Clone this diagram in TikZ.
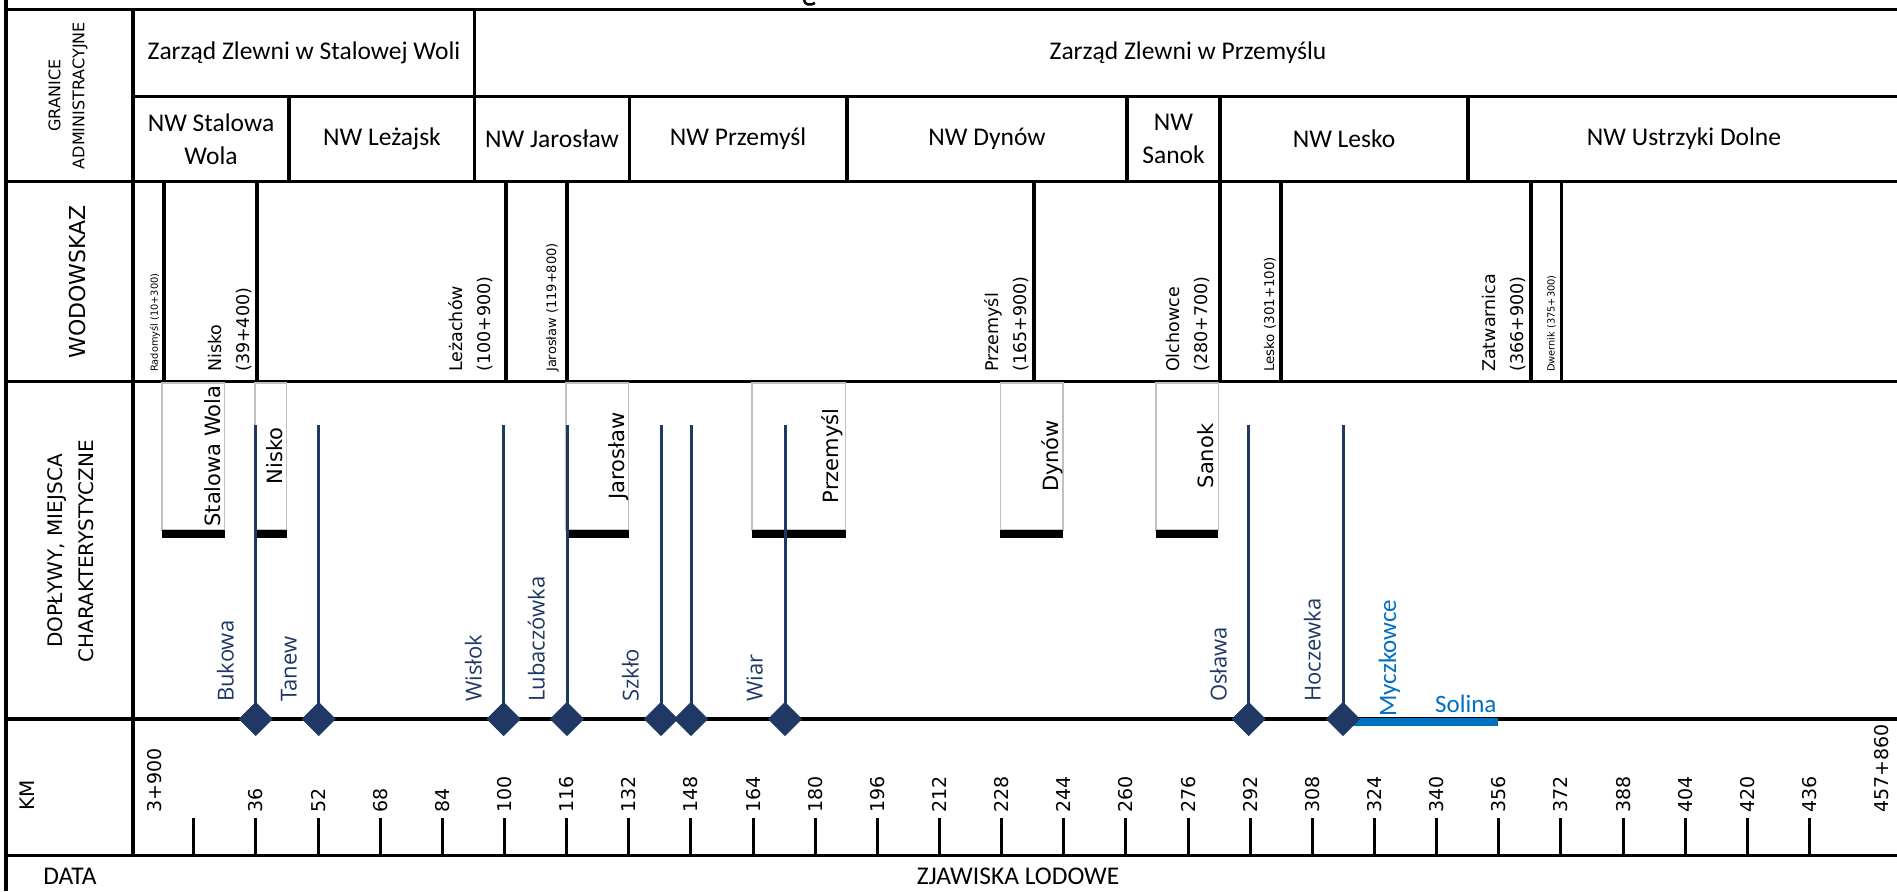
\documentclass[tikz,border=0pt]{standalone}
\usepackage{fontspec}
\usetikzlibrary{shapes.geometric}
\newfontfamily\calf{Carlito}
\newfontfamily\dvf{DejaVu Sans}
\newfontfamily\osf{Open Sans}
\definecolor{navy}{RGB}{31,56,100}
\definecolor{solblue}{RGB}{0,112,192}
\definecolor{boxgray}{RGB}{192,192,192}
\begin{document}
\begin{tikzpicture}[x=1pt,y=-1pt,
 gridline/.style={line width=3.2pt,black},
 tickline/.style={line width=3pt,black},
 river/.style={line width=3pt,navy},
 gbox/.style={draw=boxgray,line width=1.5pt},
 bar/.style={fill=black},
 dia/.style={diamond,fill=navy,minimum size=34pt,inner sep=0pt},
 hdr/.style={font=\calf\fontsize{25.5}{33}\selectfont,inner sep=0pt,align=center},
 side/.style={font=\dvf\fontsize{20}{31}\selectfont,inner sep=0pt,align=center,rotate=90},
 station/.style={font=\dvf\fontsize{17.5}{28}\selectfont,inner sep=0pt,align=left,rotate=90,anchor=south west},
 place/.style={font=\dvf\fontsize{21}{25}\selectfont,inner sep=0pt,rotate=90,anchor=base},
 rivlab/.style={font=\osf\fontsize{22}{26}\selectfont,inner sep=0pt,rotate=90,anchor=south west,text=navy},
 kmlab/.style={font=\dvf\fontsize{19}{23}\selectfont,inner sep=0pt,rotate=90,anchor=west},
]
\useasboundingbox[fill=white] (0,0) rectangle (1897,891);

% ---- grid ----
\draw[gridline] (6,0) -- (6,891);
\draw[gridline] (6,9.5) -- (1897,9.5);
\draw[gridline] (133,96.7) -- (1897,96.7);
\foreach \yy in {181.7,381.7,719,855.7} \draw[gridline] (6,\yy) -- (1897,\yy);
\draw[gridline] (133,9.5) -- (133,855.7);
\draw[gridline] (474.6,9.5) -- (474.6,181.7);
\foreach \xx in {289,629.5,847,1127,1220,1468} \draw[gridline] (\xx,96.7) -- (\xx,181.7);
\foreach \xx in {164,257,506,567,1034,1220,1281,1531,1561.5} \draw[gridline] (\xx,181.7) -- (\xx,381.7);

% small fragment of cut-off title
\draw[line width=2.5pt] (804,0) .. controls (805,5) and (810,6) .. (815,3);

% ---- side labels ----
\node[side,font=\dvf\fontsize{16}{24}\selectfont] (lgran) at (68,95.6) {GRANICE\\ADMINISTRACYJNE};
\node[side,font=\dvf\fontsize{22}{26}\selectfont] (lwod) at (77,282) {WODOWSKAZ};
\node[side] (ldop) at (71,551) {DOPŁYWY, MIEJSCA\\CHARAKTERYSTYCZNE};
\node[side] (lkm) at (27,795) {KM};
\node[hdr] (ldata) at (70,876) {DATA};
\node[hdr] (lzjaw) at (1018,876) {ZJAWISKA LODOWE};

% ---- header rows ----
\node[hdr] (zzsw) at (304,53) {Zarząd Zlewni w Stalowej Woli};
\node[hdr] (zzp) at (1188,53) {Zarząd Zlewni w Przemyślu};
\node[hdr] (nwsw) at (211,139) {NW Stalowa\\Wola};
\node[hdr] (nwle) at (382,139) {NW Leżajsk};
\node[hdr] (nwja) at (552,139) {NW Jarosław};
\node[hdr] (nwpr) at (738,139) {NW Przemyśl};
\node[hdr] (nwdy) at (987,139) {NW Dynów};
\node[hdr] (nwsa) at (1173.5,139) {NW\\Sanok};
\node[hdr] (nwles) at (1344,139) {NW Lesko};
\node[hdr] (nwus) at (1684,139) {NW Ustrzyki Dolne};

% ---- wodowskaz stations ----
\node[station,font=\dvf\fontsize{9.8}{11}\selectfont] (wrad) at (160,372) {Radomyśl (10+300)};
\node[station] (wnis) at (252,372) {Nisko\\(39+400)};
\node[station] (wlez) at (493,372) {Leżachów\\(100+900)};
\node[station,font=\dvf\fontsize{13}{15}\selectfont] (wjar) at (559,372) {Jarosław (119+800)};
\node[station] (wprz) at (1029,372) {Przemyśl\\(165+900)};
\node[station] (wolc) at (1210,372) {Olchowce\\(280+700)};
\node[station,font=\dvf\fontsize{13.4}{15}\selectfont] (wles) at (1276,372) {Lesko (301+100)};
\node[station] (wzat) at (1526,372) {Zatwarnica\\(366+900)};
\node[station,font=\dvf\fontsize{9.8}{11}\selectfont] (wdwe) at (1556,372) {Dwernik (375+300)};

% ---- characteristic places (boxes) ----
\foreach \l/\r in {162/224.5,255/286.6,566/628.6,752/845.5,1000.4/1063,1155.8/1218.3}{
  \draw[gbox] (\l,383) rectangle (\r,530);
  \fill[bar] (\l,530) rectangle (\r,538);
}
\node[place] (pstw) at (220.5,456) {Stalowa Wola};
\node[place] (pnis) at (282.5,456) {Nisko};
\node[place] (pjar) at (624,456) {Jarosław};
\node[place] (pprz) at (838,456) {Przemyśl};
\node[place] (pdyn) at (1058.5,456) {Dynów};
\node[place] (psan) at (1213.5,456) {Sanok};

% ---- Solina reservoir ----
\coordinate (sol1) at (1349,722);
\coordinate (sol2) at (1497.6,722);
\draw[solblue,line width=8pt] (sol1) -- (sol2);
\node[font=\calf\fontsize{25}{30}\selectfont,text=solblue,inner sep=0pt,anchor=base west] (tsol) at (1435,712) {Solina};
\node[font=\calf\fontsize{25}{30}\selectfont,text=solblue,inner sep=0pt,rotate=90,anchor=base west] (tmyc) at (1396,717) {Myczkowce};

% ---- tributaries ----
\foreach \n/\xx in {1/255.8,2/318.8,3/503.6,4/567,5/661,6/691,7/785,8/1248.7,9/1343}{
  \coordinate (rt\n) at (\xx,425);
  \node[dia] (rd\n) at (\xx,719) {};
  \draw[river] (rt\n) -- (rd\n.center);
  \node[dia] at (rd\n) {};
}
\node[rivlab] (rl1) at (234,702) {Bukowa};
\node[rivlab] (rl2) at (297,702) {Tanew};
\node[rivlab] (rl3) at (482,702) {Wisłok};
\node[rivlab] (rl4) at (545,702) {Lubaczówka};
\node[rivlab] (rl5) at (639,702) {Szkło};
\node[rivlab] (rl7) at (763,702) {Wiar};
\node[rivlab] (rl8) at (1227,702) {Osława};
\node[rivlab] (rl9) at (1321,702) {Hoczewka};

% ---- km scale ----
\foreach \k in {20,36,...,436}{
  \coordinate (kt\k) at ({131.3+(\k-3.9)*3.8838},818);
  \coordinate (kb\k) at ({131.3+(\k-3.9)*3.8838},855.7);
  \draw[tickline] (kt\k) -- (kb\k);
}
\foreach \k in {36,52,...,436}{
  \node[kmlab] (kl\k) at ({131.3+(\k-3.9)*3.8838},813) {\k};
}
\node[kmlab] (klstart) at (155,813) {3+900};
\node[kmlab] (klend) at (1882,813) {457+860};
\end{tikzpicture}
\end{document}
